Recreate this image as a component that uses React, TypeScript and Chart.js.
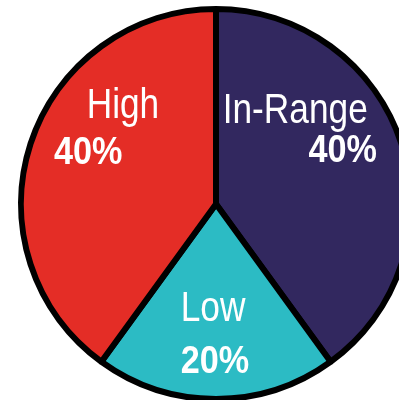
import React, { useEffect, useRef } from "react";
import { Chart, registerables } from "chart.js";

Chart.register(...registerables);

const categories = ["In-Range", "Low", "High"];
const values = [40, 20, 40];
const percentLabels = ["40%", "20%", "40%"];
const colors = ["#32285F", "#2CBBC4", "#E42D26"];

// label anchors relative to pie centre, in units of radius: [nameDx, nameDy, pctDx, pctDy]
const labelAnchors = [
  [0.4, -0.41, 0.64, -0.21],
  [-0.015, 0.59, -0.005, 0.855],
  [-0.47, -0.435, -0.645, -0.2],
];

function drawNarrow(ctx: any, text: string, x: number, y: number, sx: number) {
  ctx.save();
  ctx.translate(x, y);
  ctx.scale(sx, 1);
  ctx.fillText(text, 0, 0);
  ctx.restore();
}

const labelPlugin = {
  id: "sliceLabels",
  afterDatasetsDraw(chart: any) {
    const ctx = chart.ctx;
    const meta = chart.getDatasetMeta(0);
    meta.data.forEach((arc: any, i: number) => {
      const { x, y, outerRadius } = arc.getProps(["x", "y", "outerRadius"], true);
      const R = outerRadius + 3;
      const a = labelAnchors[i];
      ctx.save();
      ctx.fillStyle = "#ffffff";
      ctx.textAlign = "center";
      ctx.textBaseline = "alphabetic";
      ctx.font = '42px "Liberation Sans", Arial, sans-serif';
      drawNarrow(ctx, categories[i], x + a[0] * R, y + a[1] * R, 0.84);
      ctx.font = 'bold 38px "Liberation Sans", Arial, sans-serif';
      drawNarrow(ctx, percentLabels[i], x + a[2] * R, y + a[3] * R, 0.9);
      ctx.restore();
    });
  },
};

export default function App() {
  const ref = useRef<HTMLCanvasElement>(null);
  useEffect(() => {
    if (!ref.current) return;
    const chart = new Chart(ref.current, {
      type: "pie",
      data: {
        labels: categories,
        datasets: [
          {
            data: values,
            backgroundColor: colors,
            borderColor: "#000000",
            borderWidth: 6,
          },
        ],
      },
      options: {
        responsive: false,
        animation: false,
        radius: 195,
        layout: { padding: 0 },
        plugins: {
          legend: { display: false },
          tooltip: { enabled: false },
        },
      },
      plugins: [labelPlugin],
    });
    return () => chart.destroy();
  }, []);
  return (
    <div
      style={{
        position: "fixed",
        left: 0,
        top: 0,
        width: 399,
        height: 400,
        overflow: "hidden",
        background: "#fff",
      }}
    >
      <canvas
        ref={ref}
        width={432}
        height={408}
        style={{ position: "absolute", left: 0, top: 0, width: 432, height: 408 }}
      />
    </div>
  );
}
